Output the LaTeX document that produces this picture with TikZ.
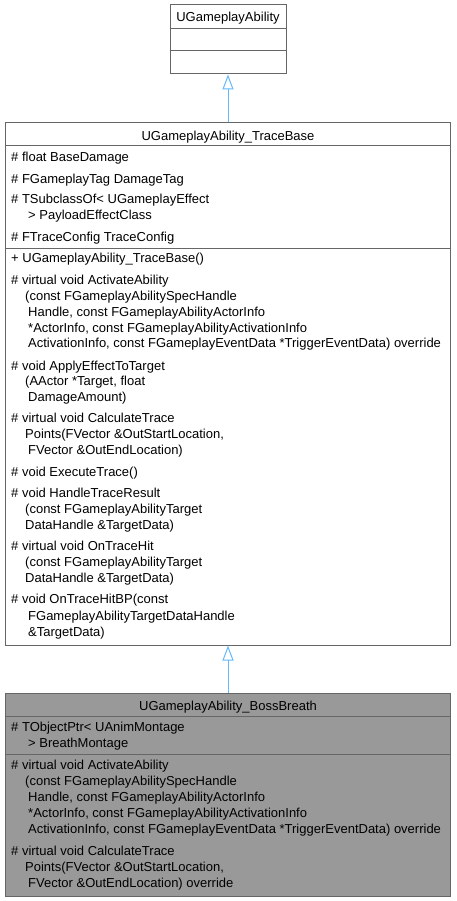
\documentclass[tikz,border=0pt]{standalone}
\usepackage{fontspec}
\setmainfont{Liberation Sans}
\usepackage{xcolor}
\usetikzlibrary{arrows.meta, positioning}

\definecolor{boxgray}{HTML}{666666}
\definecolor{focusgray}{HTML}{999999}
\definecolor{inheritblue}{HTML}{63B8FF}

\begin{document}
\begin{tikzpicture}[x=1pt, y=-1pt, font=\fontsize{13}{16}\selectfont]
    % Define styles locally
    \tikzstyle{classbox} = [draw=boxgray, fill=white, line width=1pt, inner sep=0pt]
    \tikzstyle{focusbox} = [classbox, fill=focusgray]
    \tikzstyle{divider} = [draw=boxgray, line width=1pt]
    \tikzstyle{classname} = [anchor=base, inner sep=0pt]
    \tikzstyle{member} = [anchor=base west, inner sep=0pt]
    \tikzstyle{inherits} = [draw=inheritblue, line width=1pt, -{Triangle[open, length=15pt, width=11pt]}]

    \useasboundingbox (0,0) rectangle (456,901);

    % Boxes
    \node[classbox, minimum width=116pt, minimum height=69pt] (ability) at (228,39.5) {};
    \node[classbox, minimum width=445pt, minimum height=522pt] (trace) at (228,384) {};
    \node[focusbox, minimum width=445pt, minimum height=203pt] (breath) at (228,794.5) {};

    % Compartment lines
    \draw[divider] (ability.west |- 0,29) -- (ability.east |- 0,29);
    \draw[divider] (ability.west |- 0,51) -- (ability.east |- 0,51);
    \draw[divider] (trace.west |- 0,146) -- (trace.east |- 0,146);
    \draw[divider] (trace.west |- 0,248) -- (trace.east |- 0,248);
    \draw[divider] (breath.west |- 0,716) -- (breath.east |- 0,716);
    \draw[divider] (breath.west |- 0,754) -- (breath.east |- 0,754);

    % UGameplayAbility
    \node[classname] (abilityname) at (228,22) {UGameplayAbility};

    % UGameplayAbility_TraceBase
    \node[classname] (tracename) at (228,140.5) {UGameplayAbility\_TraceBase};
    % attributes
    \node[member] (tbA1) at (11,161.5) {\# float BaseDamage};
    \node[member] (tbA2) at (11,183.5) {\# FGameplayTag DamageTag};
    \node[member] (tbA3) at (11,203.5) {\# TSubclassOf< UGameplayEffect};
    \node[member] (tbA3b) at (28,219.5) {> PayloadEffectClass};
    \node[member] (tbA4) at (11,241.5) {\# FTraceConfig TraceConfig};
    % methods
    \node[member] (tbM1) at (11,262.5) {+ UGameplayAbility\_TraceBase()};
    \node[member] (tbM2) at (11,284.5) {\# virtual void ActivateAbility};
    \node[member] (tbM2b) at (25,300.5) {(const FGameplayAbilitySpecHandle};
    \node[member] (tbM2c) at (28,316.5) {Handle, const FGameplayAbilityActorInfo};
    \node[member] (tbM2d) at (28,332.5) {*ActorInfo, const FGameplayAbilityActivationInfo};
    \node[member] (tbM2e) at (28,347.5) {ActivationInfo, const FGameplayEventData *TriggerEventData) override};
    \node[member] (tbM3) at (11,370.5) {\# void ApplyEffectToTarget};
    \node[member] (tbM3b) at (25,385.5) {(AActor *Target, float};
    \node[member] (tbM3c) at (28,401.5) {DamageAmount)};
    \node[member] (tbM4) at (11,422.5) {\# virtual void CalculateTrace};
    \node[member] (tbM4b) at (25,438.5) {Points(FVector \&OutStartLocation,};
    \node[member] (tbM4c) at (28,454.5) {FVector \&OutEndLocation)};
    \node[member] (tbM5) at (11,476.5) {\# void ExecuteTrace()};
    \node[member] (tbM6) at (11,497.5) {\# void HandleTraceResult};
    \node[member] (tbM6b) at (25,513.5) {(const FGameplayAbilityTarget};
    \node[member] (tbM6c) at (25,529.5) {DataHandle \&TargetData)};
    \node[member] (tbM7) at (11,550.5) {\# virtual void OnTraceHit};
    \node[member] (tbM7b) at (25,566.5) {(const FGameplayAbilityTarget};
    \node[member] (tbM7c) at (25,582.5) {DataHandle \&TargetData)};
    \node[member] (tbM8) at (11,603.5) {\# void OnTraceHitBP(const};
    \node[member] (tbM8b) at (28,620) {FGameplayAbilityTargetDataHandle};
    \node[member] (tbM8c) at (28,636) {\&TargetData)};

    % UGameplayAbility_BossBreath
    \node[classname] (breathname) at (228,710.5) {UGameplayAbility\_BossBreath};
    % attributes
    \node[member] (bbA1) at (11,731.5) {\# TObjectPtr< UAnimMontage};
    \node[member] (bbA1b) at (28,747.5) {> BreathMontage};
    % methods
    \node[member] (bbM1) at (11,769.5) {\# virtual void ActivateAbility};
    \node[member] (bbM1b) at (25,785.5) {(const FGameplayAbilitySpecHandle};
    \node[member] (bbM1c) at (28,801.5) {Handle, const FGameplayAbilityActorInfo};
    \node[member] (bbM1d) at (28,817.5) {*ActorInfo, const FGameplayAbilityActivationInfo};
    \node[member] (bbM1e) at (28,833.5) {ActivationInfo, const FGameplayEventData *TriggerEventData) override};
    \node[member] (bbM2) at (11,855.5) {\# virtual void CalculateTrace};
    \node[member] (bbM2b) at (25,871.5) {Points(FVector \&OutStartLocation,};
    \node[member] (bbM2c) at (28,887.5) {FVector \&OutEndLocation) override};

    % Inheritance
    \draw[inherits] (trace.north) -- (ability.south);
    \draw[inherits] (breath.north) -- (trace.south);

\end{tikzpicture}
\end{document}
